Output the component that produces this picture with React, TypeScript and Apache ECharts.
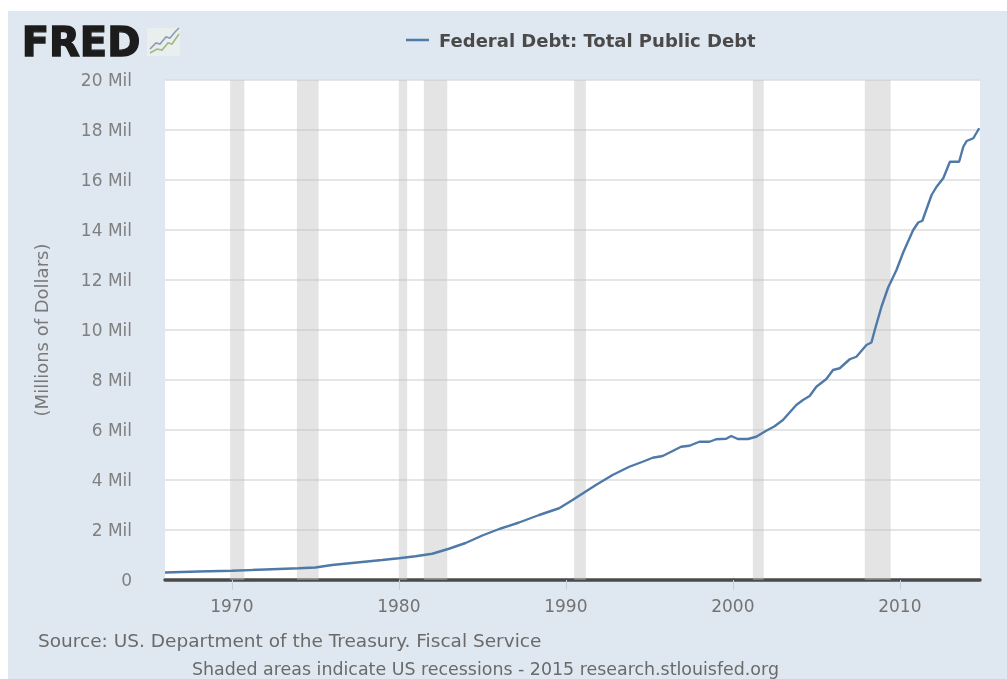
import React, { useEffect, useRef } from "react";
import * as echarts from "echarts";

const seriesName = "Federal Debt: Total Public Debt";
const yearTicks = [1970, 1980, 1990, 2000, 2010];
const years = [
  1966, 1968, 1970, 1972, 1974, 1975, 1976, 1977.5, 1979, 1980, 1981, 1982, 1983, 1984, 1985, 1986.05, 1987.2, 1988.4, 1989.6,
  1990.4, 1991.1, 1991.8, 1992.8, 1993.8, 1994.6, 1995.2, 1995.8, 1996.9, 1997.4, 1998, 1998.6, 1999, 1999.6, 1999.9,
  2000.3, 2000.9, 2001.4, 2002, 2002.5, 2003, 2003.8, 2004.2, 2004.6, 2005, 2005.6, 2006, 2006.4, 2007, 2007.4,
  2008, 2008.3, 2008.5, 2008.9, 2009.3, 2009.8, 2010.2, 2010.8, 2011.1, 2011.35, 2011.9, 2012.2, 2012.6, 2013, 2013.55,
  2013.8, 2014, 2014.4, 2014.75,
];
const debtMil = [
  0.3, 0.34, 0.37, 0.42, 0.47, 0.5, 0.6, 0.7, 0.8, 0.87, 0.95, 1.05, 1.25, 1.48, 1.78, 2.05, 2.3, 2.6, 2.87,
  3.2, 3.5, 3.8, 4.2, 4.53, 4.73, 4.89, 4.96, 5.33, 5.37, 5.53, 5.53, 5.63, 5.65, 5.76,
  5.64, 5.64, 5.73, 5.97, 6.15, 6.4, 7.0, 7.2, 7.36, 7.73, 8.04, 8.4, 8.47, 8.83, 8.93,
  9.4, 9.5, 10.0, 10.93, 11.7, 12.4, 13.1, 14.0, 14.3, 14.37, 15.4, 15.73, 16.07, 16.73, 16.73,
  17.33, 17.56, 17.67, 18.07,
];
const recessionStart = [1969.9, 1973.9, 1980.0, 1981.5, 1990.5, 2001.2, 2007.9];
const recessionEnd = [1970.75, 1975.2, 1980.5, 1982.9, 1991.2, 2001.85, 2009.45];
const logoLineA = [[3, 21], [9, 15], [13, 16], [19, 9], [23, 10], [28, 4], [32, 0]];
const logoLineB = [[3, 25], [10, 21], [15, 22], [21, 15], [25, 16], [32, 6]];
const sourceText = "Source: US. Department of the Treasury. Fiscal Service";
const shadedText = "Shaded areas indicate US recessions - 2015 research.stlouisfed.org";
const FONT = "'DejaVu Sans', sans-serif";

export default function App() {
  const ref = useRef<HTMLDivElement>(null);
  useEffect(() => {
    const chart = echarts.init(ref.current!, undefined, { renderer: "svg" });
    chart.setOption({
      animation: false,
      backgroundColor: "#ffffff",
      textStyle: { fontFamily: FONT },
      grid: { left: 165, right: 27, top: 80, bottom: 99, show: true, backgroundColor: "#ffffff", borderWidth: 0 },
      legend: {
        left: 401,
        top: 26,
        itemWidth: 23,
        itemHeight: 2.5,
        itemGap: 8,
        icon: "rect",
        data: [seriesName],
        textStyle: { color: "#4a4a4a", fontWeight: "bold", fontSize: 18, fontFamily: FONT, padding: [0, 0, 0, 5] },
      },
      xAxis: {
        type: "value",
        min: 1966,
        max: 2014.8,
        splitLine: { show: false },
        axisLine: { onZero: false, lineStyle: { color: "#4a4a4a", width: 3.5 } },
        axisTick: { customValues: yearTicks, length: 10, lineStyle: { color: "#c5d0dc", width: 1 } },
        axisLabel: { customValues: yearTicks, color: "#737373", fontSize: 17, margin: 17, formatter: (v: number) => `${v}` },
      },
      yAxis: {
        type: "value",
        min: 0,
        max: 20,
        interval: 2,
        name: "(Millions of Dollars)",
        nameLocation: "middle",
        nameRotate: 90,
        nameGap: 115,
        nameTextStyle: { color: "#7a7a7a", fontSize: 18 },
        axisLine: { show: false },
        axisTick: { show: false },
        splitLine: { lineStyle: { color: "#dcdcdc", width: 1.5 } },
        axisLabel: {
          color: "#808080",
          fontSize: 17,
          margin: 33,
          padding: [4, 0, 0, 0],
          formatter: (v: number) => (v === 0 ? "0" : `${v} Mil`),
        },
      },
      series: [
        {
          name: seriesName,
          type: "line",
          showSymbol: false,
          symbol: "none",
          itemStyle: { color: "#4f7aa8" },
          lineStyle: { color: "#4f7aa8", width: 2.4 },
          data: years.map((y, i) => [y, debtMil[i]]),
          markArea: {
            silent: true,
            itemStyle: { color: "rgba(190,190,190,0.42)" },
            data: recessionStart.map((s, i) => [{ xAxis: s }, { xAxis: recessionEnd[i] }]),
          },
        },
      ],
      graphic: [
        { type: "rect", z: -1, shape: { x: 8, y: 11, width: 999, height: 668 }, style: { fill: "#dfe7f0" } },
        {
          type: "text", left: 21, top: 21, z: 5,
          style: { text: "FRED", fontFamily: FONT, fontWeight: "bold", fontSize: 40, fill: "#1c1c1c", stroke: "#1c1c1c", lineWidth: 1.4 },
        },
        {
          type: "group", x: 147, y: 28, z: 5,
          children: [
            { type: "rect", shape: { x: 0, y: 0, width: 33, height: 28 }, style: { fill: "#e9eeee" } },
            { type: "polyline", shape: { points: logoLineA }, style: { stroke: "#8c9db3", fill: "none", lineWidth: 1.6 } },
            { type: "polyline", shape: { points: logoLineB }, style: { stroke: "#a3b883", fill: "none", lineWidth: 1.6 } },
          ],
        },
        { type: "text", x: 38, y: 632, scaleX: 1.09, style: { text: sourceText, fontFamily: FONT, fontSize: 17, fill: "#6a6a6a" } },
        { type: "text", x: 192, y: 661, scaleX: 1.025, style: { text: shadedText, fontFamily: FONT, fontSize: 17, fill: "#6a6a6a" } },
      ],
    });
    return () => chart.dispose();
  }, []);
  return (
    <div
      ref={ref}
      style={{ position: "fixed", left: 0, top: 0, width: 1007, height: 679, filter: "blur(0.6px)" }}
    />
  );
}
